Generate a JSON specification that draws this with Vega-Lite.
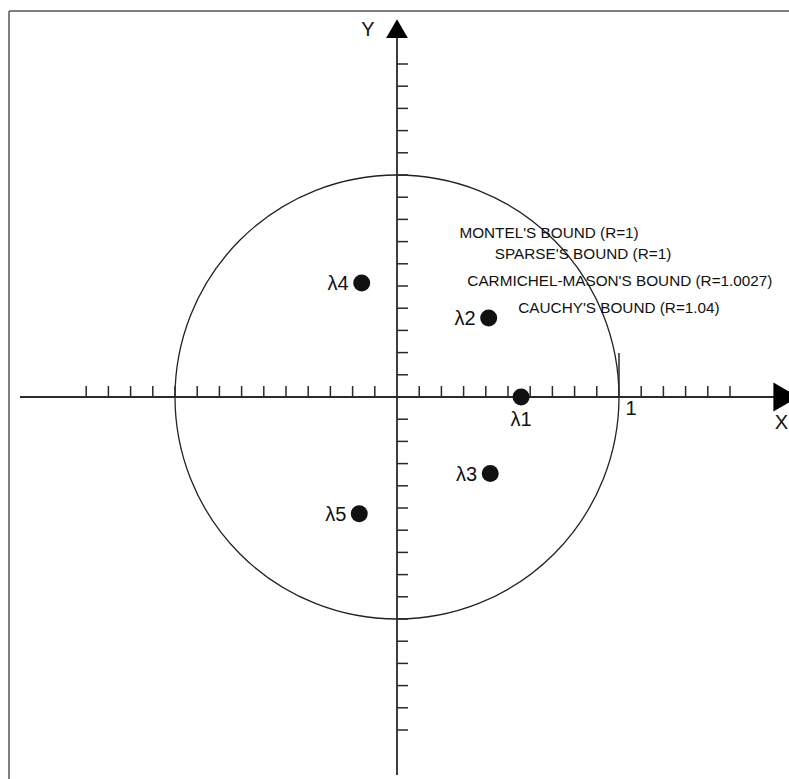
{
  "$schema": "https://vega.github.io/schema/vega-lite/v6.json",
  "width": 789,
  "height": 779,
  "padding": 0,
  "autosize": {"type": "none"},
  "background": "white",
  "config": {"view": {"stroke": null}, "text": {"font": "Liberation Sans"}},
  "datasets": {
    "frame": [
      {"x": -1.7477, "y": 1.7387, "x2": 1.7658, "y2": 1.7387},
      {"x": -1.7477, "y": 1.7387, "x2": -1.7477, "y2": -1.7207}
    ],
    "axes": [
      {"x": -1.698, "y": 0, "x2": 1.70, "y2": 0},
      {"x": 0, "y": 1.62, "x2": 0, "y2": -1.703}
    ],
    "xticks": [
      {"x": -1.4, "y": 0}, {"x": -1.3, "y": 0}, {"x": -1.2, "y": 0}, {"x": -1.1, "y": 0},
      {"x": -1.0, "y": 0}, {"x": -0.9, "y": 0}, {"x": -0.8, "y": 0}, {"x": -0.7, "y": 0},
      {"x": -0.6, "y": 0}, {"x": -0.5, "y": 0}, {"x": -0.4, "y": 0}, {"x": -0.3, "y": 0},
      {"x": -0.2, "y": 0}, {"x": -0.1, "y": 0},
      {"x": 0.1, "y": 0}, {"x": 0.2, "y": 0}, {"x": 0.3, "y": 0}, {"x": 0.4, "y": 0},
      {"x": 0.5, "y": 0}, {"x": 0.6, "y": 0}, {"x": 0.7, "y": 0}, {"x": 0.8, "y": 0},
      {"x": 0.9, "y": 0}, {"x": 1.1, "y": 0}, {"x": 1.2, "y": 0}, {"x": 1.3, "y": 0},
      {"x": 1.4, "y": 0}, {"x": 1.5, "y": 0}
    ],
    "yticks": [
      {"x": 0, "y": 1.5}, {"x": 0, "y": 1.4}, {"x": 0, "y": 1.3}, {"x": 0, "y": 1.2},
      {"x": 0, "y": 1.1}, {"x": 0, "y": 1.0}, {"x": 0, "y": 0.9}, {"x": 0, "y": 0.8},
      {"x": 0, "y": 0.7}, {"x": 0, "y": 0.6}, {"x": 0, "y": 0.5}, {"x": 0, "y": 0.4},
      {"x": 0, "y": 0.3}, {"x": 0, "y": 0.2}, {"x": 0, "y": 0.1},
      {"x": 0, "y": -0.1}, {"x": 0, "y": -0.2}, {"x": 0, "y": -0.3}, {"x": 0, "y": -0.4},
      {"x": 0, "y": -0.5}, {"x": 0, "y": -0.6}, {"x": 0, "y": -0.7}, {"x": 0, "y": -0.8},
      {"x": 0, "y": -0.9}, {"x": 0, "y": -1.0}, {"x": 0, "y": -1.1}, {"x": 0, "y": -1.2},
      {"x": 0, "y": -1.3}, {"x": 0, "y": -1.4}, {"x": 0, "y": -1.5}
    ],
    "roots": [
      {"name": "λ1", "x": 0.559, "y": 0},
      {"name": "λ2", "x": 0.413, "y": 0.356},
      {"name": "λ3", "x": 0.420, "y": -0.345},
      {"name": "λ4", "x": -0.159, "y": 0.514},
      {"name": "λ5", "x": -0.170, "y": -0.526}
    ],
    "bounds": [
      {"text": "MONTEL'S BOUND (R=1)", "x": 0.685, "y": 0.739},
      {"text": "SPARSE'S BOUND (R=1)", "x": 0.838, "y": 0.643},
      {"text": "CARMICHEL-MASON'S BOUND (R=1.0027)", "x": 1.004, "y": 0.523},
      {"text": "CAUCHY'S BOUND (R=1.04)", "x": 1.0, "y": 0.402}
    ],
    "axislabels": [
      {"text": "X", "x": 1.732, "y": -0.115},
      {"text": "Y", "x": -0.131, "y": 1.653},
      {"text": "1", "x": 1.054, "y": -0.054}
    ]
  },
  "encoding": {
    "x": {"field": "x", "type": "quantitative", "scale": {"domain": [-1.78829, 1.76577], "nice": false, "zero": false}, "axis": null},
    "y": {"field": "y", "type": "quantitative", "scale": {"domain": [-1.72072, 1.78829], "nice": false, "zero": false}, "axis": null}
  },
  "layer": [
    {
      "data": {"name": "frame"},
      "mark": {"type": "rule", "stroke": "#555555", "strokeWidth": 1.5},
      "encoding": {"x2": {"field": "x2"}, "y2": {"field": "y2"}}
    },
    {
      "data": {"name": "axes"},
      "mark": {"type": "rule", "stroke": "#2a2a2a", "strokeWidth": 1.8},
      "encoding": {"x2": {"field": "x2"}, "y2": {"field": "y2"}}
    },
    {
      "data": {"values": [{"x": 0, "y": 0}]},
      "mark": {"type": "point", "shape": "circle", "size": 197136, "filled": false, "stroke": "#222222", "strokeWidth": 1.3, "opacity": 1}
    },
    {
      "data": {"name": "xticks"},
      "mark": {"type": "tick", "orient": "vertical", "size": 11, "thickness": 1.5, "yOffset": -5.5, "color": "#2a2a2a", "opacity": 1}
    },
    {
      "data": {"values": [{"x": 1.0, "y": 0}]},
      "mark": {"type": "tick", "orient": "vertical", "size": 44, "thickness": 1.5, "yOffset": -22, "color": "#2a2a2a", "opacity": 1}
    },
    {
      "data": {"name": "yticks"},
      "mark": {"type": "tick", "orient": "horizontal", "size": 11, "thickness": 1.5, "xOffset": 5.5, "color": "#2a2a2a", "opacity": 1}
    },
    {
      "data": {"values": [{"x": 0, "y": 1.659}]},
      "mark": {"type": "point", "shape": "triangle-up", "size": 471, "filled": true, "color": "#000000", "opacity": 1}
    },
    {
      "data": {"values": [{"x": 1.752, "y": 0}]},
      "mark": {"type": "point", "shape": "triangle-right", "size": 841, "filled": true, "color": "#000000", "opacity": 1}
    },
    {
      "data": {"name": "roots"},
      "mark": {"type": "point", "shape": "circle", "size": 289, "filled": true, "color": "#111111", "opacity": 1}
    },
    {
      "data": {"name": "roots"},
      "transform": [{"filter": "datum.name != 'λ1'"}],
      "mark": {"type": "text", "align": "right", "baseline": "middle", "dx": -13, "dy": 1, "fontSize": 20, "color": "#111111"},
      "encoding": {"text": {"field": "name"}}
    },
    {
      "data": {"name": "roots"},
      "transform": [{"filter": "datum.name == 'λ1'"}],
      "mark": {"type": "text", "align": "center", "baseline": "middle", "dy": 22.5, "fontSize": 20, "color": "#111111"},
      "encoding": {"text": {"field": "name"}}
    },
    {
      "data": {"name": "axislabels"},
      "mark": {"type": "text", "align": "center", "baseline": "middle", "fontSize": 20, "color": "#111111"},
      "encoding": {"text": {"field": "text"}}
    },
    {
      "data": {"name": "bounds"},
      "mark": {"type": "text", "align": "center", "baseline": "middle", "fontSize": 15.3, "color": "#111111"},
      "encoding": {"text": {"field": "text"}}
    }
  ]
}
